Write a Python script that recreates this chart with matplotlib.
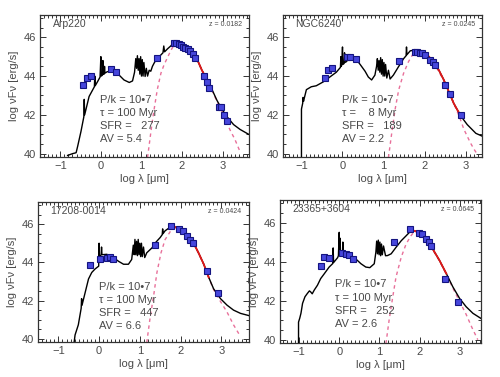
import matplotlib
matplotlib.use("Agg")
import matplotlib.pyplot as plt
from matplotlib.ticker import MultipleLocator

plt.rcParams["font.family"] = ["Liberation Sans", "DejaVu Sans"]

TXT = "#4a4a4a"
FRAME = "#333333"
PINK = "#e8709a"
RED = "#e01818"
BLUE_FACE = "#4646dc"
BLUE_EDGE = "#141480"

# ---------------- Arp220 ----------------
ARP_NAME = "Arp220"
ARP_Z = "z = 0.0182"
ARP_PARAMS = ["P/k = 10•7", "τ = 100 Myr", "SFR =   277", "AV = 5.4"]
ARP_MODEL_X = [-0.82, -0.70, -0.61, -0.57, -0.49, -0.42, -0.41, -0.40, -0.29, -0.16,
               -0.15, -0.14, -0.08, -0.02, 0.0, 0.01, 0.04, 0.05, 0.06, 0.08,
               0.09, 0.10, 0.16, 0.33, 0.45, 0.57, 0.70, 0.78, 0.83, 0.86,
               0.88, 0.90, 0.92, 0.94, 0.96, 0.98, 1.0, 1.02, 1.04, 1.06,
               1.09, 1.12, 1.15, 1.19, 1.23, 1.27, 1.32, 1.39, 1.46, 1.53,
               1.55, 1.57, 1.64, 1.72, 1.80, 1.88, 2.0, 2.13, 2.25, 2.37,
               2.49, 2.62, 2.74, 2.86, 2.98, 3.11, 3.27, 3.43, 3.64]
ARP_MODEL_Y = [39.91, 40.0, 40.05, 40.4, 41.15, 41.9, 42.8, 42.0, 42.95, 43.45,
               44.0, 43.5, 43.72, 43.95, 45.0, 44.0, 44.05, 44.8, 44.1, 44.1,
               44.5, 44.15, 44.23, 44.2, 44.05, 43.8, 43.67, 43.75, 44.2, 44.9,
               44.4, 45.05, 44.3, 44.9, 44.1, 45.0, 44.0, 44.85, 44.0, 44.7,
               43.98, 44.4, 44.0, 44.3, 44.25, 44.5, 44.7, 44.92, 45.05, 45.2,
               45.55, 45.25, 45.4, 45.55, 45.68, 45.72, 45.64, 45.43, 45.18, 44.87,
               44.3, 43.8, 43.3, 42.75, 42.3, 41.9, 41.5, 41.25, 41.0]
ARP_FIT_X = [1.75, 1.80, 1.88, 2.0, 2.13, 2.25, 2.37, 2.49, 2.58]
ARP_FIT_Y = [45.6, 45.68, 45.72, 45.64, 45.43, 45.18, 44.87, 44.3, 43.95]
ARP_DUST_X = [1.15, 1.20, 1.25, 1.31, 1.39, 1.48, 1.56, 1.64, 1.72, 1.80, 1.88, 2.0,
              2.13, 2.25, 2.37, 2.49, 2.62, 2.74, 2.86, 2.98, 3.11, 3.20, 3.30, 3.43]
ARP_DUST_Y = [39.8, 40.6, 41.4, 42.26, 43.3, 44.15, 44.6, 44.95, 45.3, 45.6, 45.7, 45.62,
              45.42, 45.17, 44.85, 44.3, 43.78, 43.25, 42.7, 42.2, 41.55, 41.15, 40.75, 40.1]
ARP_OBS_X = [-0.43, -0.34, -0.25, 0.25, 0.37, 1.39, 1.79, 1.86, 1.92, 1.97, 2.02, 2.08,
             2.14, 2.20, 2.27, 2.32, 2.54, 2.62, 2.66, 2.91, 2.95, 3.03, 3.11]
ARP_OBS_Y = [43.55, 43.9, 44.02, 44.39, 44.23, 44.92, 45.69, 45.69, 45.66, 45.6, 45.52, 45.45,
             45.4, 45.3, 45.15, 44.95, 43.98, 43.72, 43.38, 42.43, 42.43, 42.0, 41.66]

# ---------------- NGC6240 ----------------
NGC_NAME = "NGC6240"
NGC_Z = "z = 0.0245"
NGC_PARAMS = ["P/k = 10•7", "τ =    8 Myr", "SFR =   189", "AV = 2.2"]
NGC_MODEL_X = [-1.0, -1.0, -0.97, -0.96, -0.95, -0.88, -0.76, -0.64, -0.47, -0.31,
               -0.15, -0.05, -0.04, -0.03, -0.02, 0.0, 0.01, 0.04, 0.05, 0.06,
               0.10, 0.11, 0.12, 0.18, 0.34, 0.43, 0.55, 0.63, 0.71, 0.79,
               0.83, 0.85, 0.87, 0.89, 0.91, 0.93, 0.95, 0.97, 0.99, 1.01,
               1.03, 1.05, 1.08, 1.12, 1.16, 1.24, 1.37, 1.49, 1.55, 1.56,
               1.57, 1.65, 1.77, 1.9, 2.06, 2.22, 2.35, 2.47, 2.59, 2.71,
               2.88, 3.04, 3.25, 3.43]
NGC_MODEL_Y = [39.8, 42.3, 42.6, 42.9, 42.7, 43.3, 43.45, 43.5, 43.7, 43.95,
               44.2, 44.45, 45.0, 44.5, 44.55, 45.5, 44.6, 44.65, 45.2, 44.7,
               44.75, 45.1, 44.8, 44.95, 44.85, 44.6, 44.25, 43.95, 43.8, 44.05,
               44.5, 44.9, 44.3, 44.8, 44.2, 44.95, 44.1, 44.85, 44.0, 44.7,
               44.0, 44.6, 43.9, 44.3, 43.85, 44.05, 44.5, 44.9, 45.05, 45.5,
               45.1, 45.3, 45.35, 45.3, 45.1, 44.75, 44.3, 43.8, 43.2, 42.6,
               41.95, 41.5, 41.05, 40.88]
NGC_FIT_X = [1.77, 1.9, 2.06, 2.22, 2.35, 2.47, 2.59, 2.71, 2.88]
NGC_FIT_Y = [45.35, 45.3, 45.1, 44.75, 44.3, 43.8, 43.2, 42.6, 41.95]
NGC_DUST_X = [1.12, 1.20, 1.28, 1.37, 1.49, 1.61, 1.73, 1.85, 2.0, 2.15,
              2.3, 2.45, 2.6, 2.75, 2.85, 2.96, 3.04, 3.12, 3.20, 3.29]
NGC_DUST_Y = [39.8, 41.06, 42.26, 43.29, 44.15, 44.75, 45.18, 45.3, 45.15, 44.85,
              44.4, 43.85, 43.18, 42.4, 41.9, 41.25, 40.9, 40.55, 40.25, 39.95]
NGC_OBS_X = [-0.43, -0.35, -0.25, 0.10, 0.18, 0.34, 1.38, 1.76, 1.82, 1.88, 1.94, 2.02,
             2.14, 2.21, 2.26, 2.51, 2.63, 2.88]
NGC_OBS_Y = [43.9, 44.32, 44.44, 44.97, 44.97, 44.87, 44.78, 45.26, 45.26, 45.21, 45.18, 45.09,
             44.83, 44.75, 44.58, 43.55, 43.07, 42.0]

# ---------------- IRAS 17208-0014 ----------------
I17_NAME = "17208-0014"
I17_Z = "z = 0.0424"
I17_PARAMS = ["P/k = 10•7", "τ = 100 Myr", "SFR =   447", "AV = 6.6"]
I17_MODEL_X = [-0.62, -0.59, -0.51, -0.44, -0.43, -0.42, -0.34, -0.26, -0.18, -0.10,
               -0.01, 0.0, 0.01, 0.02, 0.05, 0.06, 0.07, 0.19, 0.35, 0.48,
               0.60, 0.72, 0.80, 0.84, 0.86, 0.88, 0.90, 0.92, 0.94, 0.96,
               0.98, 1.0, 1.02, 1.04, 1.06, 1.09, 1.12, 1.17, 1.30, 1.38,
               1.50, 1.55, 1.56, 1.57, 1.62, 1.75, 1.87, 1.99, 2.16, 2.32,
               2.44, 2.57, 2.69, 2.81, 2.98, 3.14, 3.30, 3.47, 3.70]
I17_MODEL_Y = [39.7, 40.2, 40.73, 41.6, 42.1, 41.75, 42.44, 43.13, 43.47, 43.65,
               43.8, 45.0, 44.1, 44.3, 44.4, 44.8, 44.4, 44.42, 44.25, 44.05,
               43.9, 43.9, 44.15, 44.9, 44.4, 45.2, 44.4, 45.1, 44.35, 45.2,
               44.4, 45.0, 44.3, 45.0, 44.3, 44.8, 44.25, 44.5, 44.76, 45.02,
               45.3, 45.45, 45.75, 45.5, 45.65, 45.85, 45.85, 45.72, 45.45, 45.0,
               44.5, 43.9, 43.22, 42.62, 42.1, 41.76, 41.5, 41.33, 41.2]
I17_FIT_X = [1.87, 1.99, 2.16, 2.32, 2.44, 2.57, 2.69]
I17_FIT_Y = [45.85, 45.72, 45.45, 45.0, 44.5, 43.9, 43.22]
I17_DUST_X = [1.17, 1.25, 1.34, 1.42, 1.52, 1.62, 1.75, 1.87, 1.99, 2.16,
              2.32, 2.44, 2.57, 2.69, 2.81, 2.98, 3.14, 3.30, 3.47]
I17_DUST_Y = [39.8, 41.07, 42.27, 43.47, 44.5, 45.19, 45.62, 45.82, 45.7, 45.43,
              44.98, 44.48, 43.88, 43.2, 42.58, 41.95, 41.4, 40.73, 40.12]
I17_OBS_X = [-0.22, 0.02, 0.19, 0.27, 0.35, 1.38, 1.76, 1.95, 2.06, 2.16, 2.24, 2.30, 2.65, 2.91]
I17_OBS_Y = [43.85, 44.16, 44.25, 44.28, 44.16, 44.93, 45.88, 45.74, 45.62, 45.4, 45.19, 44.99,
             43.56, 42.39]

# ---------------- IRAS 23365+3604 ----------------
I23_NAME = "23365+3604"
I23_Z = "z = 0.0645"
I23_PARAMS = ["P/k = 10•7", "τ = 100 Myr", "SFR =   252", "AV = 2.6"]
I23_MODEL_X = [-1.01, -1.01, -0.98, -0.95, -0.93, -0.91, -0.85, -0.79, -0.74, -0.71,
               -0.67, -0.62, -0.54, -0.46, -0.37, -0.25, -0.16, -0.15, -0.14, -0.04,
               -0.02, 0.0, 0.01, 0.02, 0.03, 0.05, 0.08, 0.09, 0.10, 0.12,
               0.25, 0.41, 0.54, 0.66, 0.76, 0.87, 0.91, 0.93, 0.95, 0.97,
               0.99, 1.01, 1.03, 1.05, 1.07, 1.10, 1.15, 1.20, 1.29, 1.41,
               1.54, 1.66, 1.74, 1.87, 1.99, 2.16, 2.32, 2.49, 2.66, 2.82,
               2.99, 3.15, 3.32, 3.51]
I23_MODEL_Y = [39.85, 40.9, 41.1, 41.35, 41.6, 41.86, 42.2, 42.37, 42.5, 42.45,
               42.35, 42.54, 42.79, 43.13, 43.38, 43.72, 43.9, 44.7, 43.95, 44.2,
               44.3, 45.5, 44.35, 45.2, 44.35, 44.4, 44.45, 45.0, 44.45, 44.4,
               44.31, 44.14, 43.89, 43.72, 43.69, 43.89, 44.48, 45.05, 44.4, 45.1,
               44.35, 45.0, 44.3, 44.9, 44.35, 44.8, 44.3, 44.31, 44.4, 44.73,
               45.07, 45.32, 45.49, 45.58, 45.49, 45.16, 44.65, 44.06, 43.38, 42.71,
               42.11, 41.69, 41.35, 41.1]
I23_FIT_X = [1.8, 1.87, 1.99, 2.16, 2.32, 2.49, 2.66]
I23_FIT_Y = [45.52, 45.58, 45.49, 45.16, 44.65, 44.06, 43.38]
I23_DUST_X = [1.16, 1.24, 1.33, 1.41, 1.54, 1.66, 1.78, 1.87, 1.99, 2.16,
              2.32, 2.49, 2.66, 2.82, 2.99, 3.15, 3.30, 3.44]
I23_DUST_Y = [39.8, 41.02, 42.2, 43.21, 44.23, 44.9, 45.32, 45.55, 45.47, 45.14,
              44.62, 44.03, 43.35, 42.65, 41.95, 41.3, 40.6, 40.0]
I23_OBS_X = [-0.46, -0.37, -0.25, 0.07, 0.17, 0.25, 0.33, 1.37, 1.76, 1.98, 2.06, 2.16,
             2.22, 2.28, 2.63, 2.95]
I23_OBS_Y = [43.75, 44.26, 44.19, 44.43, 44.4, 44.34, 44.14, 44.99, 45.66, 45.44, 45.41, 45.16,
             44.99, 44.82, 43.13, 41.95]


def draw_panel(fig, rect, xlim, name, ztxt, params, mx, my, fx, fy, dx, dy, ox, oy, ptxt_pos):
    ax = fig.add_axes(rect)
    ax.plot(dx, dy, color=PINK, lw=1.0, ls=(0, (2.5, 2.5)), zorder=2)
    ax.plot(mx, my, color="black", lw=1.0, zorder=3)
    ax.plot(fx, fy, color=RED, lw=1.3, zorder=4)
    ax.errorbar(ox, oy, yerr=0.08, fmt="s", ms=3.8, mfc=BLUE_FACE, mec=BLUE_EDGE,
                mew=0.8, ecolor=BLUE_EDGE, elinewidth=0.7, capsize=0, zorder=5)

    ax.set_xlim(*xlim)
    ax.set_ylim(39.83, 47.15)
    ax.xaxis.set_major_locator(MultipleLocator(1))
    ax.xaxis.set_minor_locator(MultipleLocator(0.1))
    ax.yaxis.set_major_locator(MultipleLocator(2))
    ax.yaxis.set_minor_locator(MultipleLocator(0.5))
    ax.tick_params(which="both", direction="in", top=True, right=True,
                   color=FRAME, labelcolor=TXT, labelsize=8, width=0.7)
    ax.tick_params(which="major", length=4, pad=3)
    ax.tick_params(which="minor", length=2)
    for s in ax.spines.values():
        s.set_color(FRAME)
        s.set_linewidth(0.9)

    ax.set_xlabel("log λ [μm]", fontsize=8, color=TXT, labelpad=2)
    ax.set_ylabel("log νFν [erg/s]", fontsize=8, color=TXT, labelpad=3)

    ax.text(0.06, 0.935, name, transform=ax.transAxes, fontsize=7.5, color=TXT,
            ha="left", va="center")
    ax.text(0.965, 0.935, ztxt, transform=ax.transAxes, fontsize=5, color=TXT,
            ha="right", va="center")
    px, py = ptxt_pos
    for i, line in enumerate(params):
        ax.text(px, py - i * 0.092, line, transform=ax.transAxes, fontsize=8,
                color=TXT, ha="left", va="center")
    return ax


fig = plt.figure(figsize=(5.0, 3.77), dpi=100)

draw_panel(fig, [0.080, 0.5836, 0.418, 0.3767], (-1.5, 3.65), ARP_NAME, ARP_Z, ARP_PARAMS,
           ARP_MODEL_X, ARP_MODEL_Y, ARP_FIT_X, ARP_FIT_Y, ARP_DUST_X, ARP_DUST_Y,
           ARP_OBS_X, ARP_OBS_Y, (0.287, 0.40))
draw_panel(fig, [0.566, 0.5836, 0.398, 0.3767], (-1.45, 3.4), NGC_NAME, NGC_Z, NGC_PARAMS,
           NGC_MODEL_X, NGC_MODEL_Y, NGC_FIT_X, NGC_FIT_Y, NGC_DUST_X, NGC_DUST_Y,
           NGC_OBS_X, NGC_OBS_Y, (0.296, 0.40))
draw_panel(fig, [0.076, 0.0928, 0.422, 0.371], (-1.5, 3.68), I17_NAME, I17_Z, I17_PARAMS,
           I17_MODEL_X, I17_MODEL_Y, I17_FIT_X, I17_FIT_Y, I17_DUST_X, I17_DUST_Y,
           I17_OBS_X, I17_OBS_Y, (0.289, 0.393))
draw_panel(fig, [0.560, 0.0902, 0.402, 0.379], (-1.47, 3.52), I23_NAME, I23_Z, I23_PARAMS,
           I23_MODEL_X, I23_MODEL_Y, I23_FIT_X, I23_FIT_Y, I23_DUST_X, I23_DUST_Y,
           I23_OBS_X, I23_OBS_Y, (0.274, 0.41))

fig.savefig("out.png", dpi=100)
